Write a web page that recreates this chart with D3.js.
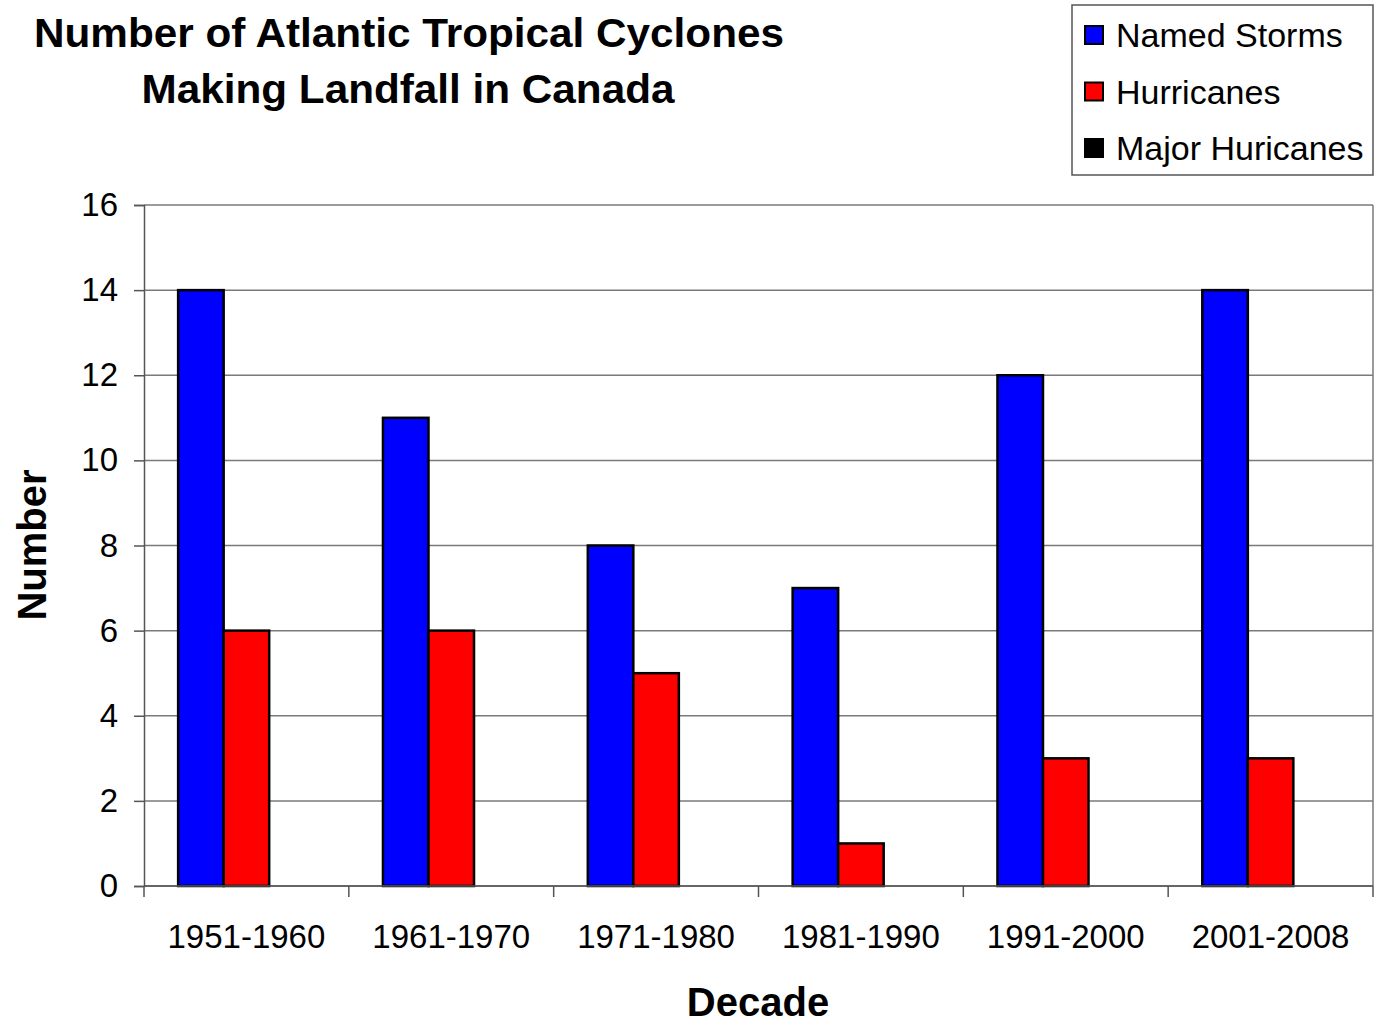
<!DOCTYPE html>
<html>
<head>
<meta charset="utf-8">
<script src="https://cdn.jsdelivr.net/npm/d3@7"></script>
<style>
body { margin: 0; background: #fff; }
text { font-family: "Liberation Sans", Arial, sans-serif; fill: #000; }
</style>
</head>
<body>
<svg id="chart"></svg>
<script>
// data
var decades = ["1951-1960", "1961-1970", "1971-1980", "1981-1990", "1991-2000", "2001-2008"];
var namedStorms = [14, 11, 8, 7, 12, 14];
var hurricanes = [6, 6, 5, 1, 3, 3];
var majorHurricanes = [0, 0, 0, 0, 0, 0];
var seriesNames = ["Named Storms", "Hurricanes", "Major Huricanes"];
var seriesColors = ["#0000ff", "#ff0000", "#000000"];
var yTicks = [0, 2, 4, 6, 8, 10, 12, 14, 16];

var screen = {width: 1376, height: 1026};
var plot = {left: 144, right: 1373, top: 205, bottom: 886};

var svg = d3.select("#chart")
    .attr("width", screen.width)
    .attr("height", screen.height);

var rows = decades.map(function(d, i) {
    return {decade: d, values: [namedStorms[i], hurricanes[i], majorHurricanes[i]]};
});

var xScale = d3.scaleBand()
    .domain(decades)
    .range([plot.left, plot.right])
    .padding(0);

var sScale = d3.scaleBand()
    .domain(seriesNames)
    .range([0, xScale.bandwidth()])
    .paddingInner(0)
    .paddingOuter(0.75);

var yScale = d3.scaleLinear()
    .domain([0, 16])
    .range([plot.bottom, plot.top]);

// gridlines
svg.append("g")
    .selectAll("line")
    .data(yTicks)
    .enter()
    .append("line")
    .attr("x1", plot.left)
    .attr("x2", plot.right)
    .attr("y1", function(d) { return yScale(d); })
    .attr("y2", function(d) { return yScale(d); })
    .attr("stroke", "#7a7a7a")
    .attr("stroke-width", 1.5);

// right border of plot area
svg.append("line")
    .attr("x1", plot.right).attr("x2", plot.right)
    .attr("y1", plot.top).attr("y2", plot.bottom)
    .attr("stroke", "#7a7a7a")
    .attr("stroke-width", 1.5);

// bars
var groups = svg.append("g")
    .selectAll("g")
    .data(rows)
    .enter()
    .append("g")
    .attr("transform", function(d) { return "translate(" + xScale(d.decade) + ",0)"; });

groups.selectAll("rect")
    .data(function(d) {
        return d.values.map(function(v, j) { return {name: seriesNames[j], value: v, color: seriesColors[j]}; });
    })
    .enter()
    .filter(function(d) { return d.value > 0; })
    .append("rect")
    .attr("x", function(d) { return sScale(d.name); })
    .attr("width", sScale.bandwidth())
    .attr("y", function(d) { return yScale(d.value); })
    .attr("height", function(d) { return yScale(0) - yScale(d.value); })
    .attr("fill", function(d) { return d.color; })
    .attr("stroke", "#000")
    .attr("stroke-width", 2.5);

// y axis
var yAxis = d3.axisLeft(yScale)
    .tickValues(yTicks)
    .tickSize(10)
    .tickPadding(16);

var yg = svg.append("g")
    .attr("transform", "translate(" + plot.left + ",0)")
    .call(yAxis);
yg.select(".domain").attr("stroke", "#555").attr("stroke-width", 1.5);
yg.selectAll(".tick line").attr("stroke", "#555").attr("stroke-width", 1.5);
yg.selectAll("text")
    .style("font-size", "33px")
    .attr("font-family", null);

// x axis: ticks at category boundaries
var xAxisLine = svg.append("g");
xAxisLine.append("line")
    .attr("x1", plot.left).attr("x2", plot.right)
    .attr("y1", plot.bottom).attr("y2", plot.bottom)
    .attr("stroke", "#555")
    .attr("stroke-width", 1.5);

var bounds = decades.map(function(d) { return xScale(d); }).concat([plot.right]);
xAxisLine.selectAll(".xtick")
    .data(bounds)
    .enter()
    .append("line")
    .attr("x1", function(d) { return d; })
    .attr("x2", function(d) { return d; })
    .attr("y1", plot.bottom)
    .attr("y2", plot.bottom + 11)
    .attr("stroke", "#555")
    .attr("stroke-width", 1.5);

xAxisLine.selectAll(".xlabel")
    .data(decades)
    .enter()
    .append("text")
    .attr("x", function(d) { return xScale(d) + xScale.bandwidth() / 2; })
    .attr("y", 948)
    .attr("text-anchor", "middle")
    .style("font-size", "33px")
    .text(function(d) { return d; });

// titles
var title = svg.append("g");
title.append("text")
    .attr("x", 409).attr("y", 47)
    .attr("text-anchor", "middle")
    .attr("textLength", 750)
    .attr("lengthAdjust", "spacingAndGlyphs")
    .style("font-size", "40px")
    .style("font-weight", "bold")
    .text("Number of Atlantic Tropical Cyclones");
title.append("text")
    .attr("x", 408).attr("y", 103)
    .attr("text-anchor", "middle")
    .attr("textLength", 533)
    .attr("lengthAdjust", "spacingAndGlyphs")
    .style("font-size", "40px")
    .style("font-weight", "bold")
    .text("Making Landfall in Canada");

svg.append("text")
    .attr("x", 758).attr("y", 1016)
    .attr("text-anchor", "middle")
    .style("font-size", "40px")
    .style("font-weight", "bold")
    .text("Decade");

svg.append("g")
    .attr("transform", "translate(46,545)")
    .append("text")
    .attr("transform", "rotate(-90)")
    .attr("text-anchor", "middle")
    .style("font-size", "40px")
    .style("font-weight", "bold")
    .text("Number");

// legend
var legend = svg.append("g");
legend.append("rect")
    .attr("x", 1072).attr("y", 5)
    .attr("width", 301).attr("height", 170)
    .attr("fill", "#fff")
    .attr("stroke", "#555")
    .attr("stroke-width", 1.5);

var items = legend.selectAll(".item")
    .data(seriesNames)
    .enter()
    .append("g")
    .attr("transform", function(d, i) { return "translate(1085," + (35 + i * 56.5) + ")"; });

items.append("rect")
    .attr("x", 0).attr("y", -9)
    .attr("width", 18).attr("height", 18)
    .attr("fill", function(d, i) { return seriesColors[i]; })
    .attr("stroke", "#000")
    .attr("stroke-width", 2);

items.append("text")
    .attr("x", 31).attr("y", 12)
    .style("font-size", "34px")
    .text(function(d) { return d; });
</script>
</body>
</html>
